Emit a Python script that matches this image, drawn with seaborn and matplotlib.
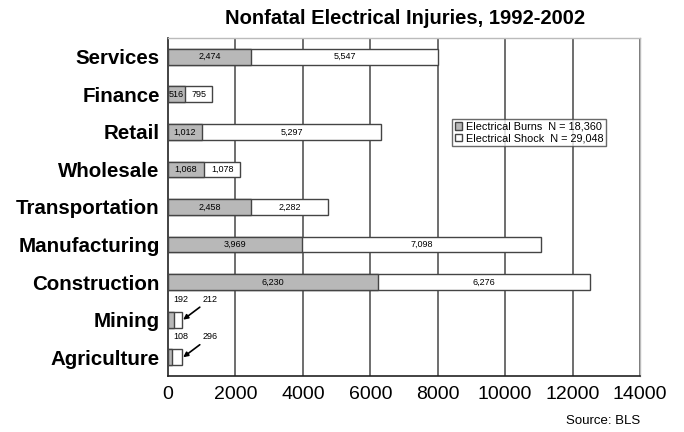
import matplotlib
matplotlib.use("Agg")
import matplotlib.pyplot as plt
import seaborn as sns
import numpy as np
import pandas as pd

industries = ["Services", "Finance", "Retail", "Wholesale", "Transportation",
              "Manufacturing", "Construction", "Mining", "Agriculture"]
burns = [2474, 516, 1012, 1068, 2458, 3969, 6230, 192, 108]
shock = [5547, 795, 5297, 1078, 2282, 7098, 6276, 212, 296]
burn_labels = ["2,474", "516", "1,012", "1,068", "2,458", "3,969", "6,230", "192", "108"]
shock_labels = ["5,547", "795", "5,297", "1,078", "2,282", "7,098", "6,276", "212", "296"]
xticks = [0, 2000, 4000, 6000, 8000, 10000, 12000, 14000]

df = pd.DataFrame({"industry": industries, "burns": burns, "shock": shock})
df["total"] = df["burns"] + df["shock"]

sns.set_style("white")
plt.rcParams["font.family"] = ["Liberation Sans", "DejaVu Sans"]
plt.rcParams["text.color"] = "black"
plt.rcParams["xtick.color"] = "black"
plt.rcParams["ytick.color"] = "black"

fig = plt.figure(figsize=(6.84, 4.32), dpi=100)
ax = fig.add_axes([168/684, 1 - 376/432, (640-168)/684, (376-38)/432])

for x in xticks[1:]:
    ax.axvline(x, color="#555555", lw=1.2, zorder=0)

sns.barplot(data=df, x="total", y="industry", color="white", saturation=1,
            edgecolor="#444444", linewidth=1.0, width=0.42, ax=ax, zorder=2)
sns.barplot(data=df, x="burns", y="industry", color="#b8b8b8", saturation=1,
            edgecolor="#444444", linewidth=1.0, width=0.42, ax=ax, zorder=3)

for i, (b, s) in enumerate(zip(burns, shock)):
    if b + s > 1000:
        ax.text(b / 2, i, burn_labels[i], ha="center", va="center", fontsize=6.5, zorder=5)
        ax.text(b + s / 2, i, shock_labels[i], ha="center", va="center", fontsize=6.5, zorder=5)

# small bars: labels above with arrow
for i in [7, 8]:
    ax.text(380, i - 0.42, burn_labels[i], ha="center", va="bottom", fontsize=6.5, zorder=5)
    ax.annotate(shock_labels[i], xy=(450, i), xytext=(1250, i - 0.42),
                ha="center", va="bottom", fontsize=6.5, zorder=5,
                arrowprops=dict(arrowstyle="-|>", color="black", lw=1.2,
                                shrinkA=0, shrinkB=0, mutation_scale=7))

ax.set_xlim(0, 14000)
ax.set_ylim(8.5, -0.5)
ax.set_xticks(xticks)
ax.set_xticklabels([str(t) for t in xticks], fontsize=14)
ax.set_yticks(range(len(industries)))
ax.set_yticklabels(industries, fontsize=14.8, fontweight="bold")
ax.tick_params(axis="y", length=0, pad=6)
ax.tick_params(axis="x", length=4, width=1, direction="out", color="#333333", pad=3)
ax.set_yticks(np.arange(-0.5, len(industries), 1.0), minor=True)
ax.tick_params(axis="y", which="minor", length=4, width=1, direction="out", color="#333333")
ax.set_xlabel("")
ax.set_ylabel("")

for side in ["left", "bottom"]:
    ax.spines[side].set_color("#222222")
    ax.spines[side].set_linewidth(1.2)
for side in ["top", "right"]:
    ax.spines[side].set_color("#bbbbbb")
    ax.spines[side].set_linewidth(1.0)

from matplotlib.patches import Patch
handles = [Patch(facecolor="#b8b8b8", edgecolor="#444444", label="Electrical Burns  N = 18,360"),
           Patch(facecolor="white", edgecolor="#444444", label="Electrical Shock  N = 29,048")]
leg = ax.legend(handles=handles, loc="upper left", bbox_to_anchor=((452-168)/472, 1 - (119-38)/338),
                fontsize=7.8, frameon=True, fancybox=False, handlelength=0.7, handleheight=0.7,
                handletextpad=0.3, borderpad=0.25, labelspacing=0.15, borderaxespad=0)
leg.get_frame().set_edgecolor("#444444")
leg.get_frame().set_linewidth(1.0)

fig.text(405/684, 1 - 18/432, "Nonfatal Electrical Injuries, 1992-2002", ha="center", va="center",
         fontsize=14.5, fontweight="bold")
fig.text(640/684, 1 - 421/432, "Source: BLS", ha="right", va="center", fontsize=9.5)

fig.savefig("out.png", dpi=100)
